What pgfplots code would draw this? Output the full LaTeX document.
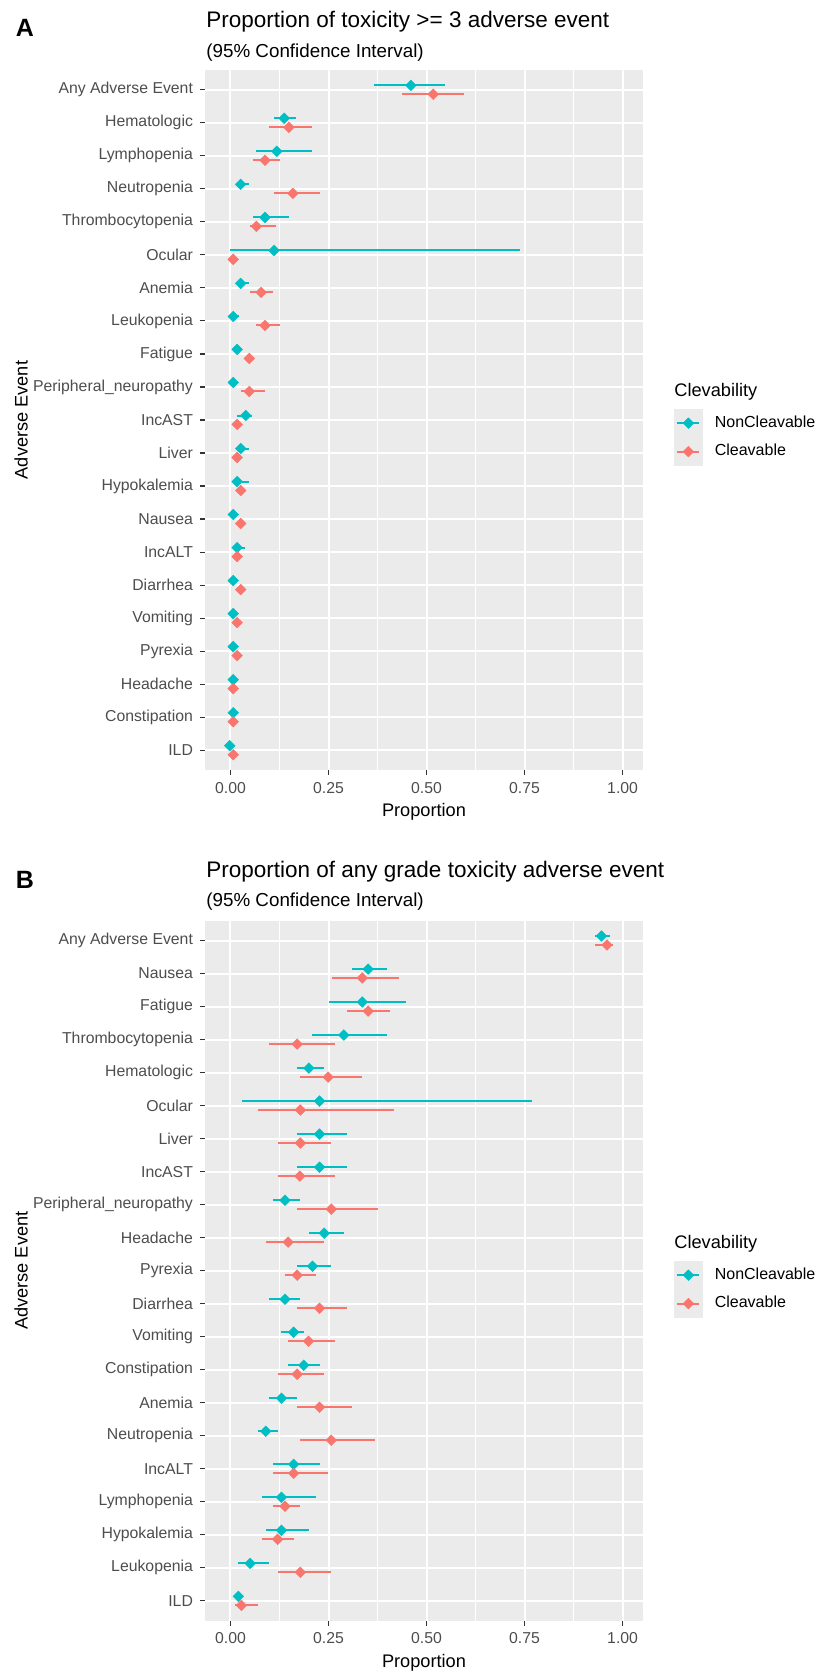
\documentclass[border=0pt]{standalone}
\usepackage{fontspec}
\setmainfont{Liberation Sans}
\usepackage{pgfplots}
\usepackage{pgfplotstable}
\pgfplotsset{compat=1.18}
\definecolor{ggcyan}{HTML}{00BFC4}
\definecolor{ggred}{HTML}{F8766D}
\definecolor{panelbg}{HTML}{EBEBEB}
\definecolor{txtgray}{HTML}{4D4D4D}
\definecolor{tickgray}{HTML}{333333}

% panel A: toxicity >= 3   (y = row index from top, v = proportion, lo/hi = 95% CI)
\pgfplotstableread{
y v lo hi
0 0.460 0.367 0.547
1 0.137 0.111 0.166
2 0.118 0.066 0.207
3 0.026 0.013 0.047
4 0.088 0.057 0.149
5 0.111 0.000 0.738
6 0.026 0.014 0.047
7 0.007 0.000 0.021
8 0.017 0.010 0.025
9 0.007 0.000 0.015
10 0.039 0.017 0.055
11 0.026 0.013 0.047
12 0.017 0.008 0.047
13 0.007 0.000 0.015
14 0.017 0.009 0.038
15 0.007 0.000 0.015
16 0.007 0.000 0.015
17 0.007 0.000 0.015
18 0.007 0.000 0.015
19 0.007 0.000 0.015
20 -0.002 -0.010 0.006
}\ANon
\pgfplotstableread{
y v lo hi
0 0.517 0.437 0.596
1 0.149 0.097 0.207
2 0.088 0.057 0.126
3 0.159 0.111 0.228
4 0.066 0.049 0.117
5 0.007 0.000 0.015
6 0.078 0.049 0.108
7 0.088 0.066 0.126
8 0.048 0.040 0.058
9 0.048 0.026 0.087
10 0.017 0.010 0.025
11 0.017 0.010 0.025
12 0.026 0.018 0.035
13 0.026 0.018 0.035
14 0.017 0.010 0.025
15 0.026 0.018 0.035
16 0.017 0.010 0.025
17 0.017 0.010 0.025
18 0.007 0.000 0.015
19 0.007 0.000 0.015
20 0.007 0.000 0.015
}\ACle
% panel B: any grade
\pgfplotstableread{
y v lo hi
0 0.946 0.930 0.969
1 0.351 0.311 0.399
2 0.336 0.250 0.447
3 0.289 0.209 0.399
4 0.200 0.170 0.239
5 0.227 0.029 0.769
6 0.227 0.170 0.297
7 0.227 0.170 0.297
8 0.139 0.108 0.178
9 0.239 0.200 0.289
10 0.209 0.170 0.257
11 0.139 0.099 0.178
12 0.161 0.130 0.187
13 0.187 0.147 0.227
14 0.130 0.099 0.170
15 0.090 0.069 0.121
16 0.161 0.108 0.227
17 0.130 0.081 0.217
18 0.130 0.090 0.200
19 0.050 0.020 0.099
20 0.020 0.009 0.031
}\BNon
\pgfplotstableread{
y v lo hi
0 0.960 0.930 0.975
1 0.336 0.259 0.430
2 0.351 0.298 0.407
3 0.170 0.099 0.266
4 0.249 0.178 0.336
5 0.178 0.069 0.416
6 0.178 0.121 0.257
7 0.177 0.121 0.266
8 0.257 0.170 0.376
9 0.147 0.090 0.239
10 0.170 0.140 0.217
11 0.227 0.170 0.297
12 0.199 0.147 0.266
13 0.170 0.121 0.239
14 0.227 0.170 0.311
15 0.257 0.178 0.368
16 0.161 0.108 0.249
17 0.139 0.108 0.178
18 0.120 0.081 0.161
19 0.178 0.121 0.257
20 0.028 0.011 0.069
}\BCle

\pgfplotsset{
  ggaxis/.style={
    scale only axis, width=219pt, height=350pt,
    xmin=-0.065, xmax=1.052,
    ymin=-0.6, ymax=20.6, y dir=reverse,
    axis background/.style={fill=panelbg},
    axis line style={draw=none},
    xtick={0,0.25,0.5,0.75,1},
    minor xtick={0.125,0.375,0.625,0.875},
    ytick={0,...,20},
    grid=both,
    major grid style={white, line width=1pt},
    minor grid style={white, line width=0.5pt},
    tick align=outside, tick pos=left,
    major tick length=2.5pt, minor tick length=0pt,
    tick style={tickgray, line width=0.55pt},
    ticklabel style={font=\fontsize{7.9}{9.5}\selectfont, text=txtgray},
    /pgf/number format/assume math mode=true,
    xticklabel style={/pgf/number format/fixed, /pgf/number format/fixed zerofill, /pgf/number format/precision=2},
    xlabel={Proportion}, ylabel={Adverse Event},
    label style={font=\fontsize{9.1}{11}\selectfont, text=black},
    xlabel style={at={(axis description cs:0.5,-0.06)}, anchor=center},
    ylabel style={at={(axis description cs:-0.42,0.5)}, anchor=center},
    legend cell align=left,
    legend style={draw=none, fill=none, inner sep=0pt, outer sep=0pt, row sep=0pt, column sep=6pt,
      nodes={inner sep=0pt, font=\fontsize{8}{9.6}\selectfont, text=black}},
    legend image code/.code={
      \fill[panelbg] (0pt,-6.9pt) rectangle (14pt,6.9pt);
      \draw[line width=1pt] (1.5pt,0pt) -- (12.5pt,0pt);
      \draw[mark repeat=2,mark phase=2] plot coordinates {(0pt,0pt) (7pt,0pt) (14pt,0pt)};
    },
  },
  nonc/.style={ggcyan, only marks, mark=square*, mark size=1.9pt, mark options={rotate=45, ggcyan, line width=0.2pt},
    error bars/.cd, x dir=both, x explicit, error mark=none, error bar style={line width=1pt, ggcyan}},
  clev/.style={ggred, only marks, mark=square*, mark size=1.9pt, mark options={rotate=45, ggred, line width=0.2pt},
    error bars/.cd, x dir=both, x explicit, error mark=none, error bar style={line width=1pt, ggred}},
}

\begin{document}
\begin{tikzpicture}
\useasboundingbox (0,0) rectangle (415.5pt,837pt);

% ---------- Panel A ----------
\begin{axis}[ggaxis, at={(102.5pt,452pt)}, anchor=south west,
  yticklabels={Any Adverse Event,Hematologic,Lymphopenia,Neutropenia,Thrombocytopenia,Ocular,Anemia,Leukopenia,Fatigue,Peripheral\_neuropathy,IncAST,Liver,Hypokalemia,Nausea,IncALT,Diarrhea,Vomiting,Pyrexia,Headache,Constipation,ILD},
  legend style={at={(axis description cs:1.0708,0.5157)}, anchor=north west}]
\addplot[nonc] table[x=v, y expr=\thisrow{y}-0.136, x error plus expr=\thisrow{hi}-\thisrow{v}, x error minus expr=\thisrow{v}-\thisrow{lo}] {\ANon};
\addlegendentry{NonCleavable}
\addplot[clev] table[x=v, y expr=\thisrow{y}+0.136, x error plus expr=\thisrow{hi}-\thisrow{v}, x error minus expr=\thisrow{v}-\thisrow{lo}] {\ACle};
\addlegendentry{Cleavable}
\end{axis}

% ---------- Panel B ----------
\begin{axis}[ggaxis, at={(102.5pt,26.65pt)}, anchor=south west,
  yticklabels={Any Adverse Event,Nausea,Fatigue,Thrombocytopenia,Hematologic,Ocular,Liver,IncAST,Peripheral\_neuropathy,Headache,Pyrexia,Diarrhea,Vomiting,Constipation,Anemia,Neutropenia,IncALT,Lymphopenia,Hypokalemia,Leukopenia,ILD},
  legend style={at={(axis description cs:1.0708,0.5139)}, anchor=north west}]
\addplot[nonc] table[x=v, y expr=\thisrow{y}-0.136, x error plus expr=\thisrow{hi}-\thisrow{v}, x error minus expr=\thisrow{v}-\thisrow{lo}] {\BNon};
\addlegendentry{NonCleavable}
\addplot[clev] table[x=v, y expr=\thisrow{y}+0.136, x error plus expr=\thisrow{hi}-\thisrow{v}, x error minus expr=\thisrow{v}-\thisrow{lo}] {\BCle};
\addlegendentry{Cleavable}
\end{axis}

% ---------- titles and tags ----------
\node[inner sep=0pt, font=\bfseries\fontsize{12.5}{14}\selectfont] at (12.5pt,823pt) {A};
\node[anchor=west, inner sep=0pt, font=\fontsize{11.25}{13.5}\selectfont] at (103pt,826pt) {Proportion of toxicity >= 3 adverse event};
\node[anchor=west, inner sep=0pt, font=\fontsize{9.4}{11}\selectfont] at (103pt,810.5pt) {(95\% Confidence Interval)};
\node[anchor=west, inner sep=0pt, font=\fontsize{9.1}{11}\selectfont] at (337pt,641pt) {Clevability};

\node[inner sep=0pt, font=\bfseries\fontsize{12.5}{14}\selectfont] at (12.5pt,397pt) {B};
\node[anchor=west, inner sep=0pt, font=\fontsize{11.25}{13.5}\selectfont] at (103pt,401pt) {Proportion of any grade toxicity adverse event};
\node[anchor=west, inner sep=0pt, font=\fontsize{9.4}{11}\selectfont] at (103pt,386pt) {(95\% Confidence Interval)};
\node[anchor=west, inner sep=0pt, font=\fontsize{9.1}{11}\selectfont] at (337pt,215pt) {Clevability};
\end{tikzpicture}
\end{document}
